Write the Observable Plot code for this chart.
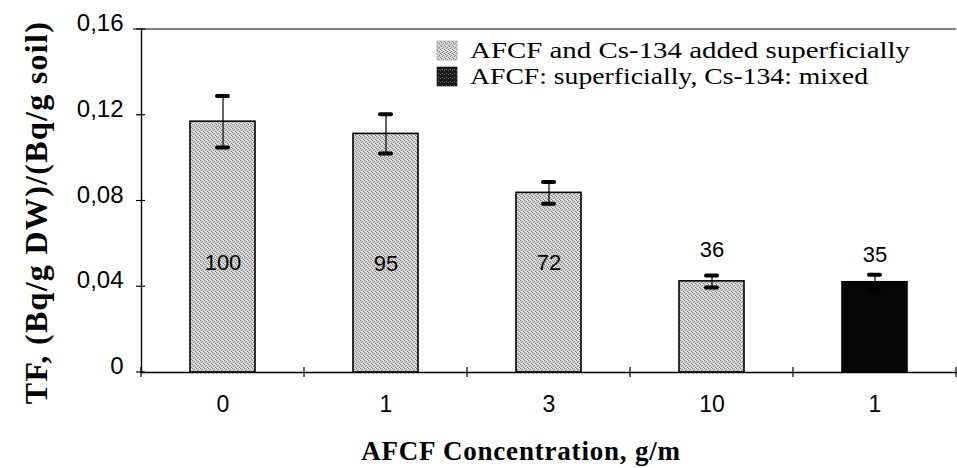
<!DOCTYPE html>
<html><head><meta charset="utf-8">
<script src="https://cdn.jsdelivr.net/npm/d3@7"></script>
<script src="https://cdn.jsdelivr.net/npm/@observablehq/plot@0.6"></script>
<style>body{margin:0;background:#fff} svg{display:block}</style>
</head><body>
<svg width="0" height="0" style="position:absolute">
  <defs>
    <pattern id="stipple" width="4" height="4" patternUnits="userSpaceOnUse">
      <rect width="4" height="4" fill="#d2d2d2"/>
      <rect x="0" y="0" width="1" height="1" fill="#777"/>
      <rect x="2" y="1" width="1" height="1" fill="#8c8c8c"/>
      <rect x="1" y="2" width="1" height="1" fill="#868686"/>
      <rect x="3" y="3" width="1" height="1" fill="#7c7c7c"/>
      <rect x="3" y="0" width="1" height="1" fill="#efefef"/>
      <rect x="1" y="3" width="1" height="1" fill="#f2f2f2"/>
    </pattern>
    <pattern id="stippleDark" width="4" height="4" patternUnits="userSpaceOnUse">
      <rect width="4" height="4" fill="#1a1a1a"/>
      <rect x="1" y="1" width="1" height="1" fill="#777"/>
      <rect x="3" y="2" width="1" height="1" fill="#666"/>
    </pattern>
  </defs>
</svg>
<div id="chart"></div>
<script>
const categories = ["0", "1", "3", "10", "1"];
const values = [0.117, 0.1113, 0.0838, 0.0425, 0.0421];
const errors = [0.012, 0.0092, 0.0051, 0.0028, 0.0035];
const percentLabels = ["100", "95", "72", "36", "35"];
const labelY = [0.0513, 0.0508, 0.0513, 0.057, 0.0546];
const seriesNames = ["AFCF and Cs-134 added superficially", "AFCF: superficially, Cs-134: mixed"];
const seriesOf = [0, 0, 0, 0, 1];
const yTicks = [0, 0.04, 0.08, 0.12, 0.16];
const xTitle = "AFCF Concentration, g/m";
const yTitle = "TF, (Bq/g DW)/(Bq/g soil)";

const fills = ["url(#stipple)", "#050505"];
const data = categories.map((c, i) => ({
  i, cat: c, v: values[i], lo: values[i] - errors[i], hi: values[i] + errors[i],
  pct: percentLabels[i], ly: labelY[i], s: seriesOf[i]
}));

const W = 957, H = 468;
const chart = Plot.plot({
  width: W, height: H,
  marginLeft: 141, marginRight: 0, marginTop: 29, marginBottom: 96,
  style: {background: "#fff", color: "#000"},
  x: {type: "band", domain: d3.range(categories.length), paddingInner: 0.6, paddingOuter: 0.3, label: null},
  y: {domain: [0, 0.16], label: null},
  marks: [
    Plot.barY(data, {x: "i", y: "v", fill: d => fills[d.s], stroke: "#000", strokeWidth: 1.6}),
    Plot.ruleX(data, {x: "i", y1: "lo", y2: "hi", stroke: "#000", strokeWidth: 1.2}),
    Plot.tickY(data, {x: "i", y: "hi", stroke: "#000", strokeWidth: 4, strokeLinecap: "round", insetLeft: 27, insetRight: 27}),
    Plot.tickY(data, {x: "i", y: "lo", stroke: "#000", strokeWidth: 4, strokeLinecap: "round", insetLeft: 27, insetRight: 27}),
    Plot.text(data, {x: "i", y: "ly", text: "pct", fontSize: 22, fontFamily: "Liberation Sans, Arial, sans-serif", fill: "#000"}),
    Plot.ruleY([0], {stroke: "#000", strokeWidth: 1.4}),
    Plot.frame({anchor: "left", stroke: "#000", strokeWidth: 1.4}),
    Plot.frame({anchor: "right", stroke: "#bbb", strokeWidth: 1, strokeDasharray: "2,3"}),
    Plot.axisY({ticks: yTicks, tickSize: 0, tickPadding: 18, fontSize: 24, dy: -6,
      fontFamily: "Liberation Sans, Arial, sans-serif",
      tickFormat: t => t === 0 ? "0" : t.toFixed(2).replace(".", ","), label: null}),
    Plot.axisX({tickSize: 0, tickPadding: 23, fontSize: 23,
      fontFamily: "Liberation Sans, Arial, sans-serif",
      tickFormat: i => categories[i], label: null})
  ]
});
document.getElementById("chart").appendChild(chart);

// decorations derived from the plot's scales
const svg = d3.select(chart);
const sx = chart.scale("x"), sy = chart.scale("y");
const step = sx.step, bw = sx.bandwidth;
const gap = (step - bw) / 2;
const bounds = d3.range(categories.length + 1).map(i =>
  i < categories.length ? sx.apply(i) - gap : sx.apply(i - 1) + bw + gap);
const y0 = sy.apply(0), yTop = sy.apply(0.16);
const x0 = bounds[0], xEnd = bounds[bounds.length - 1];
svg.append("line").attr("x1", x0 - 8).attr("x2", xEnd).attr("y1", yTop).attr("y2", yTop)
  .attr("stroke", "#000").attr("stroke-width", 1.2);
svg.append("g").selectAll("line").data(bounds).join("line")
  .attr("x1", d => d).attr("x2", d => d)
  .attr("y1", y0 - 5).attr("y2", y0 + 5)
  .attr("stroke", "#000").attr("stroke-width", 1.2);
svg.append("g").selectAll("line").data(yTicks).join("line")
  .attr("x1", x0 - 5).attr("x2", x0 + 4)
  .attr("y1", d => sy.apply(d)).attr("y2", d => sy.apply(d))
  .attr("stroke", "#000").attr("stroke-width", 1.2);

// axis titles
svg.append("text")
  .attr("transform", `translate(47,${(yTop + y0) / 2 + 12}) rotate(-90)`)
  .attr("text-anchor", "middle")
  .attr("font-family", "Liberation Serif, Times New Roman, serif")
  .attr("font-weight", "bold").attr("font-size", 32).attr("fill", "#000")
  .attr("letter-spacing", 1.3)
  .text(yTitle);
svg.append("text")
  .attr("x", 521).attr("y", 460)
  .attr("text-anchor", "middle")
  .attr("font-family", "Liberation Serif, Times New Roman, serif")
  .attr("font-weight", "bold").attr("font-size", 27).attr("fill", "#000")
  .attr("letter-spacing", 0.8)
  .text(xTitle);

// legend
const lg = svg.append("g").attr("transform", "translate(437,58)");
const swatch = ["url(#stipple)", "url(#stippleDark)"];
const legendLen = [440, 398];
seriesNames.forEach((name, k) => {
  const row = lg.append("g").attr("transform", `translate(0,${k * 26})`);
  row.append("rect").attr("x", 0).attr("y", -17).attr("width", 20).attr("height", 19)
    .attr("fill", swatch[k]).attr("stroke", k === 0 ? "#999" : "#000").attr("stroke-width", 0.6);
  row.append("text").attr("x", 33).attr("y", 0)
    .attr("text-anchor", "start")
    .attr("font-family", "Liberation Serif, Times New Roman, serif")
    .attr("font-size", 23).attr("fill", "#000")
    .attr("textLength", legendLen[k]).attr("lengthAdjust", "spacingAndGlyphs")
    .text(name);
});
</script>
</body></html>
